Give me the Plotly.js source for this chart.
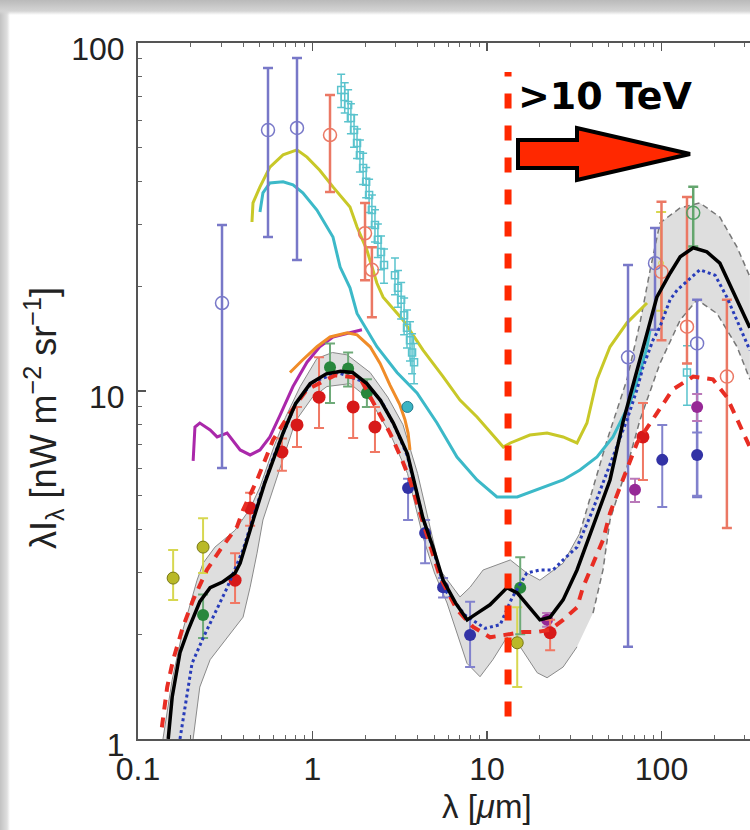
<!DOCTYPE html>
<html><head><meta charset="utf-8">
<script src="https://cdn.plot.ly/plotly-3.0.1.min.js"></script>
<style>
html,body{margin:0;padding:0;overflow:hidden;}
body{width:750px;height:830px;background:
 linear-gradient(to bottom,#bababa 0px,#d4d4d4 11px,rgba(255,255,255,0) 15px),
 linear-gradient(to right,#c2c2c2 0px,#dedede 7px,rgba(255,255,255,0) 10px),#fff;}
#chart{position:absolute;left:0;top:0;width:750px;height:830px;}
</style></head><body><div id="chart"></div><script>
// best-fit EBL (black)
const bestLam=[0.149,0.157,0.174,0.194,0.226,0.259,0.307,0.36,0.385,0.42,0.46,0.53,0.6,0.68,0.8,0.97,1.2,1.45,1.7,2.05,2.45,2.9,3.5,4.3,4.9,5.6,6.6,7.7,8.8,10.4,13.0,14.9,17.6,20.1,23,27.3,32.8,40.5,50.7,60,72,83,94,112,128,152,182,216,271,321];
const bestI=[1.0,1.32,1.77,2.06,2.48,2.72,2.83,3.0,3.2,3.73,4.3,5.4,6.4,7.6,9.2,10.5,11.2,11.4,11.3,10.5,9.4,8.1,6.6,4.3,3.56,2.86,2.46,2.2,2.3,2.43,2.72,2.63,2.38,2.2,2.24,2.51,3.06,4.07,5.55,8.1,11.3,14.7,18.6,21.8,24.3,25.8,25.1,23.3,18.3,15.2];
// uncertainty band
const upLam=[0.139,0.157,0.181,0.218,0.236,0.276,0.36,0.44,0.5,0.6,0.7,0.85,1.06,1.3,1.58,2.14,2.7,3.3,4.0,4.7,5.38,7.0,8.0,9.5,13.6,16.9,20.1,27.3,34,48.8,63.4,75.3,86,98,128,166,216,271,321];
const upI=[1.0,1.48,2.06,2.86,3.2,3.56,3.98,4.6,5.3,6.9,8.4,10.3,12.4,12.9,12.7,11.3,9.6,8.0,5.8,4.1,3.06,2.56,2.73,3.06,3.27,3.0,2.86,3.2,3.9,7.23,10.8,15.7,22.2,30.4,33.6,34.7,31.6,25.9,21.3];
const loLam=[0.207,0.226,0.259,0.324,0.40,0.439,0.481,0.52,0.65,0.8,1.0,1.21,1.64,2.14,2.8,3.5,4.3,5.0,5.9,7.68,9.12,10.8,13.0,15.5,19.4,22.1,27.3,32.8,40.5,46.2,50.7,63.4,75.3,98,128,160,208,271,321];
const loI=[1.0,1.41,1.69,1.96,2.24,2.73,3.42,4.26,6.0,8.2,9.6,10.3,10.5,9.42,7.5,5.8,3.8,3.0,2.46,1.65,1.51,1.69,1.96,1.84,1.55,1.50,1.61,1.84,2.30,3.06,4.26,6.05,8.26,12.0,16.0,18.3,16.7,13.4,10.8];
// red dashed model
const redLam=[0.137,0.147,0.159,0.181,0.207,0.248,0.295,0.369,0.40,0.481,0.594,0.743,0.93,1.35,1.87,2.34,2.78,3.26,3.62,4.30,5.38,6.73,8.32,10.4,13.0,16.1,19.4,23.0,27.3,32.8,35.5,40.5,46.2,50.7,57.8,72.4,94.2,116,152,197,237,282,321];
const redI=[1.08,1.41,1.69,2.10,2.51,3.06,3.49,4.07,4.55,5.55,7.23,8.64,10.1,11.1,10.9,8.82,7.57,6.34,5.55,4.18,2.92,2.35,2.10,1.96,1.99,2.03,2.03,2.06,2.20,2.39,2.73,3.2,3.73,4.46,5.30,7.09,8.64,10.1,11.0,10.8,9.6,7.88,6.9];
// blue dotted model
const bluLam=[0.174,0.204,0.236,0.276,0.324,0.4,0.5,0.6,0.8,1.0,1.4,2.0,2.5,3.0,3.5,4.3,5.0,5.74,7.48,9.75,11.9,13.9,16.9,20.1,23.9,27.3,32.8,40,48.8,63.4,72.4,78.3,89.4,98,112,123,166,203,237,282,321];
const bluI=[1.0,1.65,1.95,2.30,2.72,3.5,5.0,6.5,9.2,10.6,11.3,10.6,9.3,7.8,6.5,4.3,3.4,2.68,2.27,2.08,2.13,2.54,3.0,3.06,3.06,3.27,3.56,4.5,5.85,8.26,10.1,11.7,14.0,15.3,18.3,19.5,22.3,21.5,18.6,15.3,13.1];
// upper-limit curves
const yelLam=[0.45,0.456,0.50,0.57,0.678,0.815,0.93,1.10,1.31,1.64,1.80,2.05,2.34,2.54,3.30,4.30,5.60,7.0,8.77,12.4,13.6,17.6,22.1,27.3,32.8,37.4,42.7,50.7,63.4,82.6];
const yelI=[30.6,34.7,38.6,44.0,47.7,49.3,47.0,43.1,38.6,33.8,29.6,25.4,20.4,18.6,16.0,13.1,11.0,9.42,8.42,6.9,7.09,7.47,7.57,7.38,7.09,8.09,10.8,13.4,15.7,17.9];
const cyLam=[0.50,0.52,0.57,0.678,0.773,0.88,1.06,1.31,1.44,1.64,1.80,2.34,3.05,3.97,5.17,6.73,8.77,11.4,14.9,19.4,27.3,34.1,42.7,52.7,65.9,75.3,82.6,86];
const cyI=[32.7,37.1,39.6,39.9,39.1,37.1,33.1,27.7,22.7,19.8,16.7,13.4,11.3,9.87,8.09,6.46,5.55,4.96,4.96,5.2,5.55,5.93,6.46,7.38,9.24,11.3,13.4,15.0];
const magLam=[0.207,0.209,0.212,0.226,0.259,0.284,0.324,0.385,0.439,0.50,0.57,0.652,0.773,0.93,1.10,1.31,1.64,1.92];
const magI=[6.3,6.77,7.88,8.09,7.73,7.38,7.57,6.77,6.55,6.77,7.38,8.53,10.3,12.1,13.4,14.3,14.7,15.0];
const orLam=[0.743,0.88,1.06,1.26,1.58,1.80,2.14,2.44,2.78,3.17,3.39,3.53,3.62];
const orI=[11.3,12.3,13.4,14.3,14.7,14.5,13.4,12.0,10.4,9.12,8.26,7.57,6.77];
// cyan measurements (open squares)
const cqLam=[1.46,1.53,1.60,1.66,1.73,1.80,1.87,1.95,2.03,2.11,2.19,2.28,2.37,2.47,2.57,2.97,3.09,3.22,3.35,3.48,3.62,3.72,3.82,140];
const cqI=[73.3,69.9,66.4,60.9,56.2,51.6,47.6,43.7,39.9,36.6,33.1,30.0,27.2,25.1,23.0,21.5,19.8,18.3,16.5,15.2,14.0,12.9,12.1,11.3];
const cqErr=[8,7,7,6,6,5,5,4.5,4,4,3.5,3.2,3,2.8,2.6,2.6,2.4,2.2,2.0,1.9,1.8,1.7,1.6,2.2];
// open circles
const obLam=[0.303,0.556,0.815,64.3,91.8,160];
const obI=[17.9,56.2,57.0,12.5,23.3,13.7];
const obTop=[30.0,84.8,90.6,23.0,29.4,18.3];
const obBot=[6.01,27.7,23.8,1.84,15.0,4.96];
const osLam=[1.26,2.0,2.19,100,140,237];
const osI=[54.4,28.4,22.3,22.0,15.3,11.0];
const osTop=[70.9,34.7,25.9,35.0,36.1,18.3];
const osBot=[37.3,20.8,16.3,14.0,12.0,4.04];
const ogLam=[152];
const ogI=[32.5];
const ogTop=[38.6];
const ogBot=[26];
// filled points
const rfLam=[0.36,0.439,0.668,0.815,1.09,1.71,2.28,23,78.3];
const rfI=[2.86,4.61,6.68,7.99,9.6,9.0,7.88,2.02,7.38];
const rfTop=[3.42,5.1,7.3,9.0,12.5,11.0,9.0,2.2,9.24];
const rfBot=[2.46,4.1,5.9,6.9,7.83,7.33,6.68,1.8,5.55];
const gfLam=[0.236,1.26,1.60,2.05,15.5];
const gfI=[2.27,11.7,11.6,9.87,2.72];
const gfTop=[2.6,13.7,12.9,10.8,3.33];
const gfBot=[1.95,9.24,10.3,9.0,2.0];
const olLam=[0.159,0.236,14.9];
const olI=[2.90,3.56,1.89];
const olTop=[3.49,4.31,2.39];
const olBot=[2.51,3.0,1.41];
const ybLam=[99.5];
const ybI=[23.3];
const ybTop=[32.7];
const ybBot=[17.0];
const nvLam=[3.53,4.42,5.60,8.0,101,160];
const nvI=[5.26,3.91,2.73,1.99,6.34,6.55];
const nvTop=[5.6,4.26,2.9,2.48,7.99,7.6];
const nvBot=[4.26,3.2,2.55,1.61,4.64,5.0];
const puLam=[22.1,70.5,160];
const puI=[2.20,5.2,9.0];
const puTop=[2.3,5.6,9.8];
const puBot=[2.1,4.8,8.2];
const cfLam=[3.5];
const cfI=[9.0];
// 10 TeV threshold
const tevLam=[13.2,13.2];
const tevI=[1.16,82.6];

function eb(I,top,bot,col,w){
  return {type:'data',symmetric:false,array:top.map((t,i)=>t-I[i]),arrayminus:bot.map((b,i)=>I[i]-b),color:col,thickness:w||2,width:5};
}
const lineT=(x,y,col,w,dash)=>({x:x,y:y,mode:'lines',type:'scatter',line:{color:col,width:w,dash:dash||'solid'},hoverinfo:'skip'});
const pts=(x,y,err,sym,col,size,lw,lc)=>({x:x,y:y,mode:'markers',type:'scatter',error_y:err,marker:{symbol:sym,color:col,size:size,line:{width:lw||0,color:lc||col}},hoverinfo:'skip'});

const bandX=upLam.concat(loLam.slice().reverse());
const bandY=upI.concat(loI.slice().reverse());
const splitAt=33;
const traces=[
  {x:bandX,y:bandY,mode:'lines',type:'scatter',fill:'toself',fillcolor:'rgba(222,222,222,1)',line:{width:0},hoverinfo:'skip'},
  lineT(upLam.filter(v=>v<=splitAt+2),upI.filter((v,i)=>upLam[i]<=splitAt+2),'#8a8a8a',1),
  lineT(loLam.filter(v=>v<=splitAt),loI.filter((v,i)=>loLam[i]<=splitAt),'#8a8a8a',1),
  lineT(upLam.filter(v=>v>=splitAt),upI.filter((v,i)=>upLam[i]>=splitAt),'#777',1.5,'6px,4px'),
  lineT(loLam.filter(v=>v>=splitAt),loI.filter((v,i)=>loLam[i]>=splitAt),'#777',1.5,'6px,4px'),
  lineT(yelLam,yelI,'rgb(200,200,40)',3),
  lineT(cyLam,cyI,'rgb(60,185,200)',3),
  lineT(magLam,magI,'rgb(170,40,170)',3),
  lineT(orLam,orI,'rgb(240,140,40)',3),
  pts(cqLam,cqI,{type:'data',array:cqErr,color:'rgb(90,195,205)',thickness:1.5,width:4},'square-open','rgb(90,195,205)',7,1.5),
  pts(ybLam,ybI,eb(ybI,ybTop,ybBot,'rgb(215,215,80)',2),'circle-open','rgb(215,215,80)',5,1),
  pts(olLam,olI,eb(olI,olTop,olBot,'rgb(215,215,80)',2),'circle','rgb(185,185,40)',12,1,'rgb(120,120,20)'),
  pts(obLam,obI,eb(obI,obTop,obBot,'rgb(120,120,200)',2.5),'circle-open','rgb(120,120,200)',13,1.5),
  pts(osLam,osI,eb(osI,osTop,osBot,'rgb(235,120,100)',2.5),'circle-open','rgb(235,120,100)',13,1.5),
  pts(ogLam,ogI,eb(ogI,ogTop,ogBot,'rgb(100,165,110)',2.5),'circle-open','rgb(80,160,100)',13,1.5),
  pts(gfLam,gfI,eb(gfI,gfTop,gfBot,'rgb(110,170,120)',2),'circle','rgb(40,135,60)',12),
  pts(nvLam,nvI,eb(nvI,nvTop,nvBot,'rgb(130,130,205)',2),'circle','rgb(50,50,165)',12),
  pts(puLam,puI,eb(puI,puTop,puBot,'rgb(185,120,185)',2),'circle','rgb(150,40,150)',12),
  pts(cfLam,cfI,null,'circle','rgb(60,180,195)',11,1,'rgb(30,120,140)'),
  pts(rfLam,rfI,eb(rfI,rfTop,rfBot,'rgb(240,120,100)',2),'circle','rgb(215,25,25)',13),
  lineT(bluLam,bluI,'rgb(40,60,185)',3,'dot'),
  lineT(redLam,redI,'rgb(232,45,35)',4,'10px,8px'),
  lineT(bestLam,bestI,'#000',3.5),
  lineT(tevLam,tevI,'rgb(255,40,0)',7,'15px,17px')
];

const minorX=[],minorY=[];
[0.1,1,10,100].forEach(d=>{for(let k=2;k<10;k++)minorX.push(d*k);});
[1,10].forEach(d=>{for(let k=2;k<10;k++)minorY.push(d*k);});
const tf={family:'Liberation Sans, Arial, sans-serif',size:32,color:'#222'};
const L=138,R=750,T=43,B=739;
const px=(x)=>(x-L)/(R-L), py=(y)=>(B-y)/(B-T);
const arrowPath='M'+px(518)+','+py(140)+' L'+px(577)+','+py(140)+' L'+px(577)+','+py(128)+' L'+px(690)+','+py(154)+' L'+px(577)+','+py(180)+' L'+px(577)+','+py(168)+' L'+px(518)+','+py(168)+' Z';

const layout={
  width:750,height:830,margin:{l:L,r:0,t:T,b:830-B},
  paper_bgcolor:'rgba(0,0,0,0)',plot_bgcolor:'#fff',showlegend:false,
  xaxis:{type:'log',range:[-1,2.5072],showline:true,linecolor:'#555',linewidth:2,mirror:'ticks',
    ticks:'inside',ticklen:8,tickwidth:1.5,tickcolor:'#555',tickvals:[0.1,1,10,100],ticktext:['0.1','1','10','100'],
    tickfont:tf,showgrid:false,zeroline:false,ticklabelstandoff:1,
    minor:{tickvals:minorX,ticks:'inside',ticklen:4,tickwidth:1,tickcolor:'#666',showgrid:false}},
  yaxis:{type:'log',range:[0,2],showline:true,linecolor:'#555',linewidth:2,mirror:false,
    ticks:'inside',ticklen:8,tickwidth:1.5,tickcolor:'#555',tickvals:[1,10,100],ticktext:['1','10','100'],
    tickfont:tf,showgrid:false,zeroline:false,ticklabelstandoff:5,ticklabelshift:6,
    minor:{tickvals:minorY,ticks:'inside',ticklen:4,tickwidth:1,tickcolor:'#666',showgrid:false}},
  shapes:[{type:'path',xref:'paper',yref:'paper',path:arrowPath,fillcolor:'rgb(255,40,0)',line:{color:'#000',width:4}}],
  annotations:[
    {xref:'paper',yref:'paper',x:px(516),y:py(96),xanchor:'left',yanchor:'middle',showarrow:false,text:'<b>&gt;10 TeV</b>',font:{family:'DejaVu Sans, Verdana, sans-serif',size:38,color:'#000'}},
    {xref:'x',yref:'paper',x:1,y:py(806),xanchor:'center',yanchor:'middle',showarrow:false,text:'λ [<i>μ</i>m]',font:{family:'Liberation Sans, Arial, sans-serif',size:33,color:'#222'}},
    {xref:'paper',yref:'paper',x:px(44),y:py(418),xanchor:'center',yanchor:'middle',textangle:-90,showarrow:false,text:'λI<sub>λ</sub> [nW m<sup>−2</sup> sr<sup>−1</sup>]',font:{family:'Liberation Sans, Arial, sans-serif',size:36,color:'#222'}}
  ]
};
Plotly.newPlot('chart',traces,layout,{staticPlot:true,displayModeBar:false});
</script></body></html>
